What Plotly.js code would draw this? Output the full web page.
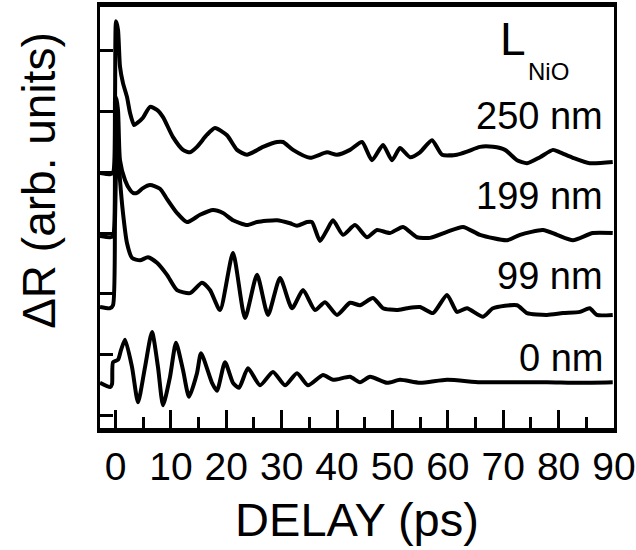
<!DOCTYPE html>
<html>
<head>
<meta charset="utf-8">
<script src="https://cdn.plot.ly/plotly-3.0.1.min.js"></script>
<style>
  html, body { margin: 0; padding: 0; background: #fff; overflow: hidden; }
  #chart { width: 636px; height: 550px; }
</style>
</head>
<body>
<div id="chart"></div>
<script>
// Delay axis tick labels
const tickValues = [0, 10, 20, 30, 40, 50, 60, 70, 80, 90];
const seriesLabels = ["250 nm", "199 nm", "99 nm", "0 nm"];

// L_NiO = 250 nm (vertically offset trace)
const x250 = [-2.8, -0.99, -0.45, -0.09, 0.09, 0.45, 0.81, 1.35, 2.08, 2.62, 3.34, 3.88, 4.96, 6.23, 7.49, 8.58, 10.38, 12.19, 13.45, 14.71, 16.52, 17.96, 20.13, 21.94, 23.74, 26.63, 29.16, 30.24, 32.05, 35.11, 38.18, 39.99, 42.34, 44.50, 46.31, 48.29, 49.92, 51.36, 53.17, 54.97, 57.14, 58.95, 61.65, 63.46, 65.81, 68.16, 70.32, 72.49, 74.29, 76.64, 78.99, 80.25, 82.59, 85.61, 89.77];
const y250 = [3.99, 3.97, 3.99, 5.19, 6.49, 6.35, 5.74, 5.47, 5.24, 4.98, 4.78, 4.81, 4.90, 5.08, 5.03, 4.91, 4.58, 4.37, 4.33, 4.42, 4.62, 4.73, 4.61, 4.37, 4.29, 4.42, 4.50, 4.50, 4.37, 4.24, 4.33, 4.29, 4.37, 4.50, 4.20, 4.45, 4.20, 4.40, 4.25, 4.33, 4.53, 4.29, 4.29, 4.34, 4.42, 4.42, 4.37, 4.20, 4.15, 4.25, 4.37, 4.33, 4.24, 4.15, 4.17];

// L_NiO = 199 nm
const x199 = [-2.8, -0.99, -0.45, -0.09, 0.09, 0.45, 0.81, 1.72, 2.62, 3.16, 3.88, 4.96, 6.23, 8.03, 9.30, 11.10, 12.91, 15.26, 17.60, 19.41, 21.21, 23.74, 25.55, 29.16, 31.50, 32.77, 34.57, 35.47, 36.92, 38.18, 39.27, 41.07, 43.24, 45.40, 47.21, 49.56, 51.90, 54.43, 56.78, 59.85, 62.74, 65.81, 70.68, 73.03, 77.18, 79.71, 82.59, 86.16, 89.77];
const y199 = [2.95, 2.93, 2.95, 4.20, 5.24, 5.03, 4.20, 3.87, 3.71, 3.66, 3.66, 3.74, 3.79, 3.73, 3.56, 3.33, 3.18, 3.30, 3.38, 3.33, 3.21, 3.13, 3.18, 3.21, 3.16, 3.12, 3.18, 3.18, 2.87, 3.05, 3.21, 2.97, 3.13, 2.93, 3.05, 3.00, 3.10, 2.93, 2.92, 3.02, 3.10, 2.97, 2.88, 2.97, 3.05, 2.97, 2.88, 3.00, 3.00];

// L_NiO = 99 nm
const x99 = [-2.8, -0.99, -0.45, -0.09, 0.27, 0.45, 0.81, 1.35, 2.08, 2.98, 4.42, 5.87, 7.49, 9.30, 11.10, 13.45, 15.62, 17.06, 18.87, 21.21, 23.38, 25.55, 27.53, 29.70, 31.87, 33.85, 36.02, 37.82, 39.99, 42.34, 44.14, 46.49, 48.29, 50.82, 52.63, 54.97, 57.32, 59.85, 61.65, 63.46, 66.35, 68.16, 72.49, 74.29, 77.90, 80.79, 83.86, 85.61, 86.88, 89.77];
const y99 = [1.78, 1.76, 1.81, 3.21, 4.61, 4.37, 3.87, 3.33, 2.83, 2.59, 2.55, 2.60, 2.51, 2.31, 2.06, 2.01, 2.18, 2.06, 1.73, 2.67, 1.60, 2.31, 1.65, 2.26, 1.76, 2.06, 1.73, 1.86, 1.65, 1.85, 1.81, 1.93, 1.76, 1.73, 1.76, 1.78, 1.68, 1.98, 1.70, 1.76, 1.62, 1.76, 1.81, 1.68, 1.65, 1.68, 1.70, 1.76, 1.65, 1.65];

// L_NiO = 0 nm
const x0 = [-2.8, -0.99, -0.63, -0.45, 0.45, 0.99, 1.72, 2.98, 4.06, 5.33, 6.59, 7.67, 8.58, 9.84, 10.92, 12.19, 13.27, 14.71, 15.44, 17.42, 18.32, 19.77, 21.21, 22.30, 23.92, 26.09, 28.43, 30.60, 32.77, 34.75, 37.46, 39.27, 42.34, 44.14, 45.95, 49.02, 51.36, 54.97, 59.85, 65.81, 71.77, 77.90, 83.86, 89.77];
const y0 = [0.53, 0.46, 0.51, 0.87, 0.91, 1.07, 1.24, 0.79, 0.21, 0.79, 1.37, 0.79, 0.16, 0.63, 1.19, 0.74, 0.30, 0.69, 1.02, 0.53, 0.40, 0.87, 0.53, 0.45, 0.77, 0.49, 0.71, 0.49, 0.69, 0.49, 0.66, 0.58, 0.63, 0.54, 0.63, 0.53, 0.58, 0.53, 0.58, 0.54, 0.54, 0.54, 0.53, 0.54];

const FONT = "Liberation Sans, Arial, Helvetica, sans-serif";
const lineStyle = {color: "#000", width: 4, shape: "spline", smoothing: 0.6};

const traces = [
  {x: x250, y: y250, name: seriesLabels[0]},
  {x: x199, y: y199, name: seriesLabels[1]},
  {x: x99, y: y99, name: seriesLabels[2]},
  {x: x0, y: y0, name: seriesLabels[3]}
].map(t => Object.assign(t, {type: "scatter", mode: "lines", line: lineStyle, hoverinfo: "skip"}));

const labelY = [0.742, 0.550, 0.360, 0.166];
const annotations = seriesLabels.map((s, i) => ({
  text: s, xref: "paper", yref: "paper", x: 0.982, y: labelY[i],
  xanchor: "right", yanchor: "middle", showarrow: false,
  font: {family: FONT, size: 38, color: "#000"}
}));
annotations.push({text: "L", xref: "paper", yref: "paper", x: 0.775, y: 0.924,
  xanchor: "left", yanchor: "middle", showarrow: false, font: {family: FONT, size: 46, color: "#000"}});
annotations.push({text: "NiO", xref: "paper", yref: "paper", x: 0.829, y: 0.847,
  xanchor: "left", yanchor: "middle", showarrow: false, font: {family: FONT, size: 24, color: "#000"}});
annotations.push({text: "\u0394R (arb. units)", xref: "paper", yref: "paper", x: -0.119, y: 0.589,
  xanchor: "center", yanchor: "middle", textangle: -90, showarrow: false,
  font: {family: FONT, size: 46, color: "#000"}});

const layout = {
  width: 636, height: 550,
  margin: {l: 100, r: 22, t: 7, b: 122, pad: 0},
  paper_bgcolor: "#fff", plot_bgcolor: "#fff",
  showlegend: false,
  font: {family: FONT, color: "#000"},
  xaxis: {
    range: [-2.8, 90], tickvals: tickValues, ticktext: tickValues.map(String),
    ticks: "inside", ticklen: 18, tickwidth: 3, tickcolor: "#000",
    ticklabeloverflow: "allow",
    minor: {tickvals: [5, 15, 25, 35, 45, 55, 65, 75, 85], ticks: "inside", ticklen: 11, tickwidth: 3, tickcolor: "#000", showgrid: false},
    showline: true, mirror: true, linewidth: 5, linecolor: "#000",
    showgrid: false, zeroline: false,
    tickfont: {family: FONT, size: 39, color: "#000"},
    title: {text: "DELAY (ps)", font: {family: FONT, size: 47, color: "#000"}, standoff: 18}
  },
  yaxis: {
    range: [-0.214, 6.725], tick0: 0, dtick: 1,
    ticks: "inside", ticklen: 13, tickwidth: 3, tickcolor: "#000",
    showticklabels: false,
    showline: true, mirror: true, linewidth: 3, linecolor: "#000",
    showgrid: false, zeroline: false
  },
  annotations: annotations
};

Plotly.newPlot("chart", traces, layout, {staticPlot: true, displayModeBar: false});
</script>
</body>
</html>
